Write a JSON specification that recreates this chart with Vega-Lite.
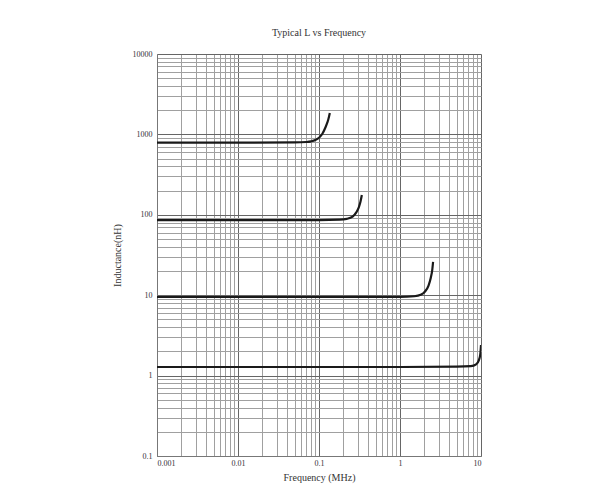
{
  "$schema": "https://vega.github.io/schema/vega-lite/v6.json",
  "autosize": "none",
  "width": 324,
  "height": 402,
  "padding": {"left": 157, "top": 54, "right": 121, "bottom": 35},
  "background": "white",
  "config": {
    "view": {"stroke": null},
    "font": "Liberation Serif",
    "title": {"font": "Liberation Serif", "fontSize": 10, "fontWeight": "normal", "color": "#333", "offset": 12},
    "axis": {"labelFont": "Liberation Serif", "titleFont": "Liberation Serif", "labelFontSize": 8, "titleFontSize": 10, "titleFontWeight": "normal", "labelColor": "#333", "titleColor": "#333", "domainColor": "#777", "ticks": false}
  },
  "title": "Typical L vs Frequency",
  "data": {
    "values": [
      {"s": "A", "f": 0.001, "L": 790},
      {"s": "A", "f": 0.01, "L": 790},
      {"s": "A", "f": 0.05, "L": 795},
      {"s": "A", "f": 0.07, "L": 805},
      {"s": "A", "f": 0.08, "L": 820},
      {"s": "A", "f": 0.09, "L": 850},
      {"s": "A", "f": 0.1, "L": 910},
      {"s": "A", "f": 0.11, "L": 1020},
      {"s": "A", "f": 0.12, "L": 1220},
      {"s": "A", "f": 0.13, "L": 1520},
      {"s": "A", "f": 0.136, "L": 1850},
      {"s": "B", "f": 0.001, "L": 86},
      {"s": "B", "f": 0.01, "L": 86},
      {"s": "B", "f": 0.1, "L": 86},
      {"s": "B", "f": 0.18, "L": 87},
      {"s": "B", "f": 0.22, "L": 89},
      {"s": "B", "f": 0.26, "L": 95},
      {"s": "B", "f": 0.29, "L": 108},
      {"s": "B", "f": 0.31, "L": 124},
      {"s": "B", "f": 0.325, "L": 145},
      {"s": "B", "f": 0.338, "L": 176},
      {"s": "C", "f": 0.001, "L": 9.5},
      {"s": "C", "f": 0.01, "L": 9.5},
      {"s": "C", "f": 0.1, "L": 9.5},
      {"s": "C", "f": 1, "L": 9.5},
      {"s": "C", "f": 1.5, "L": 9.7},
      {"s": "C", "f": 1.8, "L": 10.1},
      {"s": "C", "f": 2.05, "L": 11.2},
      {"s": "C", "f": 2.25, "L": 13.2},
      {"s": "C", "f": 2.4, "L": 16.5},
      {"s": "C", "f": 2.5, "L": 20.5},
      {"s": "C", "f": 2.56, "L": 25.9},
      {"s": "D", "f": 0.001, "L": 1.28},
      {"s": "D", "f": 0.01, "L": 1.28},
      {"s": "D", "f": 0.1, "L": 1.28},
      {"s": "D", "f": 1, "L": 1.28},
      {"s": "D", "f": 5, "L": 1.29},
      {"s": "D", "f": 7.5, "L": 1.31},
      {"s": "D", "f": 8.7, "L": 1.38},
      {"s": "D", "f": 9.4, "L": 1.55},
      {"s": "D", "f": 9.8, "L": 1.85},
      {"s": "D", "f": 10, "L": 2.4}
    ]
  },
  "mark": {"type": "line", "color": "#1a1a1a", "strokeWidth": 2.2, "interpolate": "monotone", "clip": true},
  "encoding": {
    "x": {
      "field": "f", "type": "quantitative",
      "scale": {"type": "log", "domain": [0.001, 10], "nice": false},
      "axis": {
        "title": "Frequency (MHz)",
        "values": [0.001,0.002,0.003,0.004,0.005,0.006,0.007,0.008,0.009,0.01,0.02,0.03,0.04,0.05,0.06,0.07,0.08,0.09,0.1,0.2,0.3,0.4,0.5,0.6,0.7,0.8,0.9,1,2,3,4,5,6,7,8,9,10],
        "labelExpr": "abs(log(datum.value)/LN10 - round(log(datum.value)/LN10)) < 0.000001 ? format(datum.value, '~g') : ''",
        "grid": true,
        "gridColor": {"condition": {"test": "abs(log(datum.value)/LN10 - round(log(datum.value)/LN10)) < 0.000001", "value": "#666"}, "value": "#a0a0a0"},
        "labelPadding": 3,
        "titlePadding": 5,
        "labelOverlap": false
      }
    },
    "y": {
      "field": "L", "type": "quantitative",
      "scale": {"type": "log", "domain": [0.1, 10000], "nice": false},
      "axis": {
        "title": "Inductance(nH)",
        "values": [0.1,0.2,0.3,0.4,0.5,0.6,0.7,0.8,0.9,1,2,3,4,5,6,7,8,9,10,20,30,40,50,60,70,80,90,100,200,300,400,500,600,700,800,900,1000,2000,3000,4000,5000,6000,7000,8000,9000,10000],
        "labelExpr": "abs(log(datum.value)/LN10 - round(log(datum.value)/LN10)) < 0.000001 ? format(datum.value, '~g') : ''",
        "grid": true,
        "gridColor": {"condition": {"test": "abs(log(datum.value)/LN10 - round(log(datum.value)/LN10)) < 0.000001", "value": "#666"}, "value": "#a0a0a0"},
        "labelPadding": 5,
        "titlePadding": 10,
        "labelOverlap": false
      }
    },
    "detail": {"field": "s"}
  }
}
